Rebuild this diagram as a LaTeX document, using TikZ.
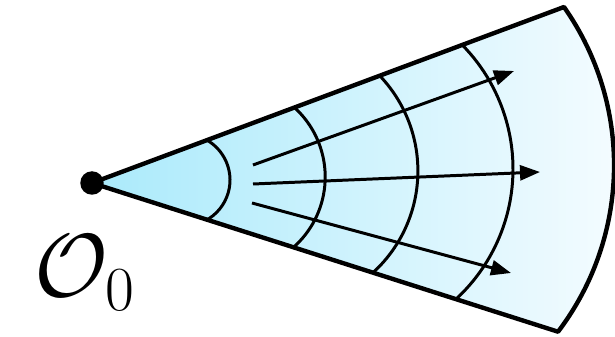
\RequirePackage{fix-cm}
\documentclass[tikz,border=0pt]{standalone}
\usepackage{xcolor}
\usepackage{tikz}
\usetikzlibrary{arrows.meta, calc}
\definecolor{beamcyan}{RGB}{170,234,251}
\definecolor{beamwhite}{RGB}{246,252,255}

\begin{document}
\begin{tikzpicture}[
  x=0.02cm, y=0.02cm,
  rim/.style={line width=2.5pt, line join=round},
  front/.style={line width=1.7pt},
  ray/.style={line width=1.7pt, -{Triangle[length=0.4cm, width=0.3cm]}},
  source/.style={circle, fill=black, inner sep=0pt, minimum size=0.47cm},
]
\useasboundingbox (-92,-154) rectangle (523,183);
% beam cone
\path[left color=beamcyan, right color=beamwhite] (0,0) -- (472,176) arc[start angle=35.1, end angle=-37.2, radius=275.3] -- cycle;
\begin{scope}
  \clip (0,0) -- (472,176) arc[start angle=35.1, end angle=-37.2, radius=275.3] -- cycle;
  \foreach \cx/\cy/\r/\a in {92/3/46/68, 139.4/6/93.8/52, 188.2/12.1/137.7/52, 244/14/177/52}{
    \draw[front] ($(\cx,\cy)+(\a:\r)$) arc[start angle=\a, end angle=-\a, radius=\r];
  }
\end{scope}
\draw[rim] (0,0) -- (472,176) arc[start angle=35.1, end angle=-37.2, radius=275.3] -- cycle;
% rays
\coordinate (r1s) at (161,18);
\coordinate (r1e) at (422,112);
\coordinate (r2s) at (161,-1);
\coordinate (r2e) at (448,11);
\coordinate (r3s) at (160,-20);
\coordinate (r3e) at (419,-90);
\draw[ray] (r1s) -- (r1e);
\draw[ray] (r2s) -- (r2e);
\draw[ray] (r3s) -- (r3e);
\node[source] (src) at (0,0) {};
\node[anchor=base west, inner sep=0pt, font=\fontsize{51}{53}\selectfont] (srclabel) at (-58,-114) {$\mathcal{O}_0$};
\end{tikzpicture}
\end{document}
